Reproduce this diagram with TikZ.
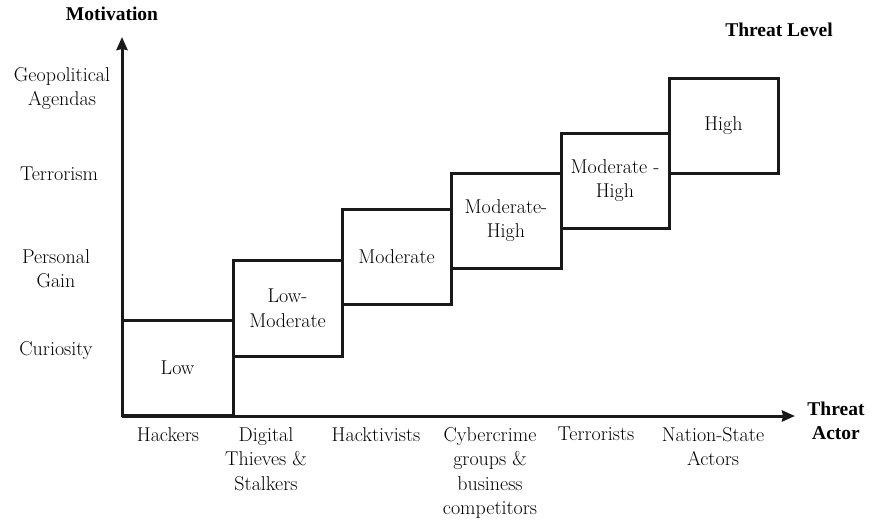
\documentclass[tikz,border=0pt]{standalone}
\usepackage{fontspec}
\newfontfamily\headfont{Liberation Serif Bold}
\usetikzlibrary{arrows.meta}
\begin{document}
\begin{tikzpicture}[x=1pt,y=-1pt,
  lbl/.style={align=center,text=black,font=\rmfamily\fontsize{20}{24.5}\selectfont,inner sep=0pt},
  head/.style={lbl,font=\headfont\fontsize{19.5}{24.5}\selectfont},
  level/.style={lbl,draw=black!90,line width=3pt,inner sep=0pt},
  axis/.style={line width=3pt,draw=black!90,-{Stealth[length=13pt,width=11pt,inset=1pt]}}]
\useasboundingbox (0,0) rectangle (875,525);

% axes
\coordinate (o) at (122,416);
\coordinate (ytip) at (122,37);
\coordinate (xtip) at (795,416);

% threat level steps
\node[level,minimum width=111pt,minimum height=95pt] (low) at (177.5,367.5) {Low};
\node[level,minimum width=109pt,minimum height=96pt] (lowmod) at (287.5,308) {Low-\\Moderate};
\node[level,minimum width=109pt,minimum height=95pt] (mod) at (396.5,256.5) {Moderate};
\node[level,minimum width=110pt,minimum height=95pt] (modhigh) at (506,220.5) {Moderate-\\High};
\node[level,minimum width=108pt,minimum height=95pt] (modhigh2) at (615,180.5) {Moderate -\\High};
\node[level,minimum width=109pt,minimum height=95pt] (high) at (723.5,125.5) {High};

\draw[axis] (o) -- (ytip);
\draw[axis] (o) -- (xtip);

% axis titles
\node[head] (tmot) at (112,14) {Motivation};
\node[head] (tlev) at (779,30) {Threat Level};
\node[head] (tact) at (836,421) {Threat\\Actor};

% motivations
\node[lbl] (m4) at (62,88.5) {Geopolitical\\Agendas};
\node[lbl] (m3) at (59,174) {Terrorism};
\node[lbl] (m2) at (56,268.5) {Personal\\Gain};
\node[lbl] (m1) at (56,351) {Curiosity};

% threat actors
\node[lbl,anchor=north] (a1) at (168,427) {Hackers};
\node[lbl,anchor=north] (a2) at (266,427) {Digital\\Thieves \&\\Stalkers};
\node[lbl,anchor=north] (a3) at (376,427) {Hacktivists};
\node[lbl,anchor=north] (a4) at (490,427) {Cybercrime\\groups \&\\business\\competitors};
\node[lbl,anchor=north] (a5) at (596,427) {Terrorists};
\node[lbl,anchor=north] (a6) at (713,427) {Nation-State\\Actors};
\end{tikzpicture}
\end{document}
